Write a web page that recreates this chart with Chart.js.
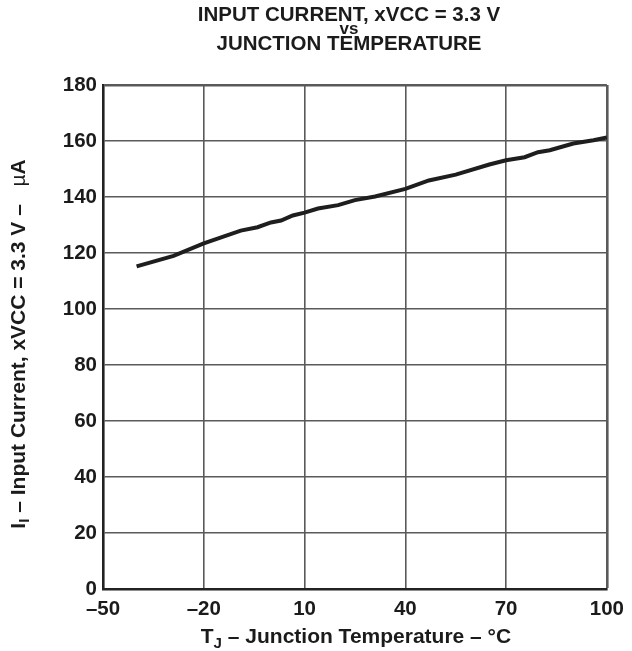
<!DOCTYPE html>
<html>
<head>
<meta charset="utf-8">
<script src="https://cdn.jsdelivr.net/npm/chart.js@4"></script>
<style>
  html, body { margin: 0; padding: 0; background: #fff; }
  #wrap { width: 632px; height: 651px; position: relative; }
</style>
</head>
<body>
<div id="wrap"><canvas id="chart"></canvas></div>
<script>
// values
const temps = [-40, -29, -20, -9, -4, 0, 3, 6.5, 10, 14, 20, 25, 31, 40, 47, 55, 65, 70, 75.5, 79.5, 83, 90, 96, 100];
const current = [115.2, 119, 123.4, 128, 129.2, 130.9, 131.6, 133.4, 134.4, 135.9, 137.1, 138.9, 140.2, 142.9, 145.9, 148.0, 151.6, 153.1, 154.2, 156, 156.7, 159.1, 160.3, 161.3];

const xTicks = [-50, -20, 10, 40, 70, 100];
const yTicks = [0, 20, 40, 60, 80, 100, 120, 140, 160, 180];

const titleLines = ["INPUT CURRENT, xVCC = 3.3 V", "vs", "JUNCTION TEMPERATURE"];
const xTitle = [{ t: "T" }, { t: "J", sub: true }, { t: " \u2013 Junction Temperature \u2013 \u00B0C" }];
const yTitle = [{ t: "I" }, { t: "I", sub: true }, { t: " \u2013 Input Current, xVCC = 3.3 V \u2013   " }, { t: "\u00B5", light: true }, { t: "A" }];

const FONT = "'Liberation Sans', Arial, Helvetica, sans-serif";
const INK = "#1b1b1b";

function partFont(p, size) {
  return (p.light ? "normal " : "bold ") + (p.sub ? size * 0.72 : size) + "px " + FONT;
}

function drawParts(ctx, parts, cx, baseline, size) {
  let w = 0;
  parts.forEach(p => {
    ctx.font = partFont(p, size);
    p.w = ctx.measureText(p.t).width;
    w += p.w;
  });
  let x = cx - w / 2;
  parts.forEach(p => {
    ctx.font = partFont(p, size);
    ctx.fillText(p.t, x, baseline + (p.sub ? size * 0.22 : 0));
    x += p.w;
  });
}

const textPlugin = {
  id: "texts",
  afterDraw(chart) {
    const ctx = chart.ctx;
    const area = chart.chartArea;
    ctx.save();
    ctx.fillStyle = INK;
    ctx.textBaseline = "alphabetic";

    // title, three centred lines
    const tcx = 349;
    ctx.textAlign = "center";
    ctx.font = "bold 20.5px " + FONT;
    ctx.fillText(titleLines[0], tcx, 21);
    ctx.font = "bold 17px " + FONT;
    ctx.fillText(titleLines[1], tcx, 34);
    ctx.font = "bold 20.5px " + FONT;
    ctx.fillText(titleLines[2], tcx, 50);
    ctx.textAlign = "left";

    // x axis title
    drawParts(ctx, xTitle, (area.left + area.right) / 2 + 1, 643, 21);

    // y axis title, rotated
    ctx.translate(24.5, 344);
    ctx.rotate(-Math.PI / 2);
    drawParts(ctx, yTitle, 0, 0, 21);
    ctx.restore();
  }
};

const ctx = document.getElementById("chart").getContext("2d");
new Chart(ctx, {
  type: "line",
  data: {
    datasets: [{
      data: temps.map((t, i) => ({ x: t, y: current[i] })),
      borderColor: "#1e1e1e",
      borderWidth: 4,
      pointRadius: 0,
      tension: 0,
      fill: false
    }]
  },
  options: {
    responsive: true,
    maintainAspectRatio: false,
    animation: false,
    layout: { padding: { top: 85, right: 21, bottom: 0, left: 0 } },
    plugins: { legend: { display: false }, tooltip: { enabled: false }, title: { display: false } },
    scales: {
      x: {
        type: "linear",
        min: -50,
        max: 100,
        afterBuildTicks: s => { s.ticks = xTicks.map(v => ({ value: v })); },
        afterFit: s => { s.height = 62; },
        ticks: {
          padding: 8,
          color: INK,
          font: { family: FONT, size: 20.5, weight: "bold" },
          callback: v => String(v).replace("-", "\u2013")
        },
        grid: {
          drawTicks: false,
          color: "#5a5a5a",
          lineWidth: c => (c.tick && c.tick.value === 100 ? 2.6 : 1.6)
        },
        border: { display: true, color: "#222", width: 2.6 }
      },
      y: {
        min: 0,
        max: 180,
        afterBuildTicks: s => { s.ticks = yTicks.map(v => ({ value: v })); },
        afterFit: s => { s.width = 103; },
        ticks: {
          padding: 6,
          color: INK,
          font: { family: FONT, size: 20.5, weight: "bold" }
        },
        grid: {
          drawTicks: false,
          color: "#5a5a5a",
          lineWidth: c => (c.tick && c.tick.value === 180 ? 2.6 : 1.6)
        },
        border: { display: true, color: "#222", width: 2.6 }
      }
    }
  },
  plugins: [textPlugin]
});
</script>
</body>
</html>
